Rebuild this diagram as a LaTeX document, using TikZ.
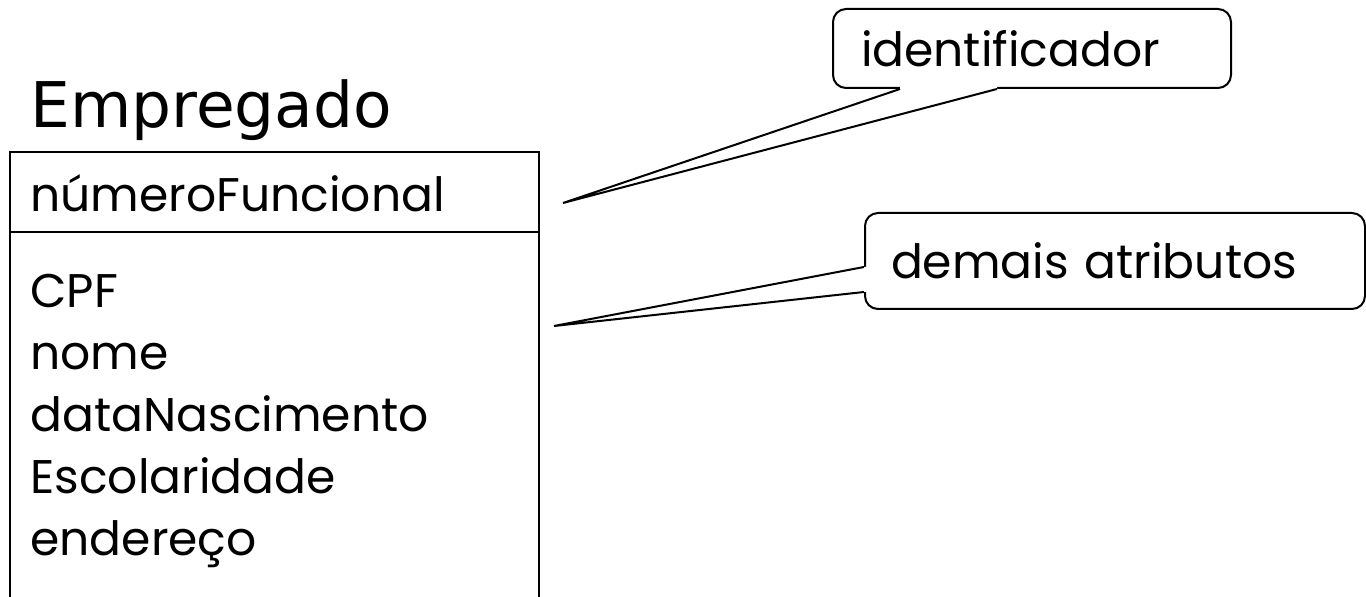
\documentclass[tikz,border=0pt]{standalone}
\usepackage{fontspec}
\setmainfont{Poppins}
\newfontfamily\titlefont{DejaVu Sans}
\usetikzlibrary{calc,positioning}
\tikzset{
  classtitle/.style={anchor=base west,inner sep=0pt,
    font=\titlefont\fontsize{31.5}{36}\selectfont},
  attr/.style={anchor=base west,inner sep=0pt,
    font=\fontsize{23.6}{28}\selectfont},
  callout/.style={draw,line width=1pt,fill=white,rounded corners=6.5pt,
    anchor=north west,align=left,inner ysep=0pt,
    font=\fontsize{23.6}{28}\selectfont},
  pointer/.style={line width=1pt,line join=miter},
}
\begin{document}
\begin{tikzpicture}[x=0.5pt,y=-0.5pt]
  \clip (0,0) rectangle (1366,597);
  \fill[white] (0,0) rectangle (1366,597);
  % class box
  \node[classtitle] (title) at (30,128) {Empregado};
  \draw[line width=1pt] (10,152) rectangle (539,640);
  \draw[line width=1pt] (10,232) -- (539,232);
  \node[attr] (key) at (30,212) {númeroFuncional};
  \foreach \attrname [count=\i] in {CPF,nome,dataNascimento,Escolaridade,endereço}
    \node[attr] (a\i) at (30,246+62*\i) {\attrname};

  % callouts
  \node[callout,minimum width=199pt,minimum height=39.5pt,text width=171pt,
        inner xsep=14pt] (ident) at (832,8) {identificador};
  \coordinate (identtip) at (563,203);
  \coordinate (identb1) at ($(ident.south west)+(68,0)$);
  \coordinate (identb2) at ($(ident.south west)+(165,0)$);
  \fill[white] ($(identb1)+(0,-5)$) -- (identb1) -- (identtip) -- (identb2)
    -- ($(identb2)+(0,-5)$) -- cycle;
  \draw[pointer] (identb1) -- (identtip) -- (identb2);

  \node[callout,minimum width=250pt,minimum height=48pt,text width=224pt,
        inner xsep=13pt] (others) at (864,212) {demais atributos};
  \coordinate (otherstip) at (554,326);
  \coordinate (othersb1) at ($(others.north west)+(0,55)$);
  \coordinate (othersb2) at ($(others.north west)+(0,80)$);
  \fill[white] ($(othersb1)+(5,0)$) -- (othersb1) -- (otherstip) -- (othersb2)
    -- ($(othersb2)+(5,0)$) -- cycle;
  \draw[pointer] (othersb1) -- (otherstip) -- (othersb2);
\end{tikzpicture}
\end{document}
